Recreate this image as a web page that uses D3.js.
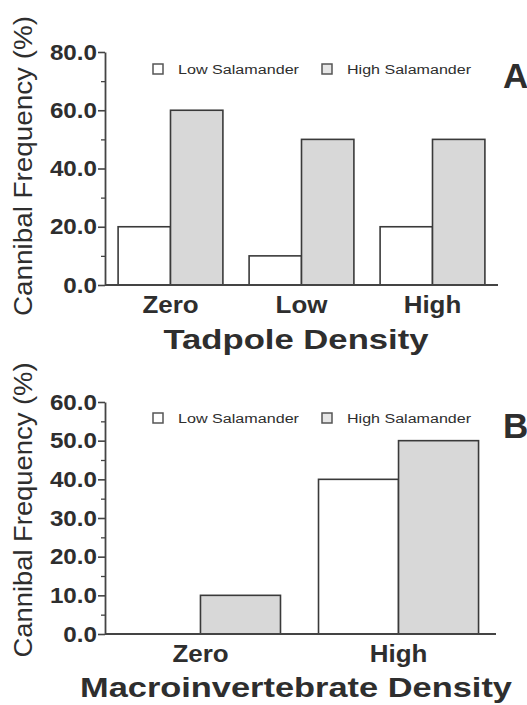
<!DOCTYPE html>
<html>
<head>
<meta charset="utf-8">
<script src="https://cdn.jsdelivr.net/npm/d3@7"></script>
<style>
  html, body { margin: 0; padding: 0; background: #fff; }
  svg { display: block; }
  text { font-family: "Liberation Sans", Arial, sans-serif; fill: #2e2e2e; }
</style>
</head>
<body>
<script>
// ---- data ----
const seriesNames = ["Low Salamander", "High Salamander"];
const tadpoleCategories = ["Zero", "Low", "High"];
const tadpoleLowSal = [20, 10, 20];
const tadpoleHighSal = [60, 50, 50];
const tadpoleMajorTicks = [0, 20, 40, 60, 80];
const tadpoleMinorTicks = [10, 30, 50, 70];

const macroCategories = ["Zero", "High"];
const macroLowSal = [0, 40];
const macroHighSal = [10, 50];
const macroMajorTicks = [0, 10, 20, 30, 40, 50, 60];
const macroMinorTicks = [5, 15, 25, 35, 45, 55];

const yLabel = "Cannibal Frequency (%)";

// ---- drawing ----
const W = 527, H = 705;
const svg = d3.select("body").append("svg").attr("width", W).attr("height", H);

const fillColors = ["#ffffff", "#d8d8d8"];
const strokeColor = "#3a3a3a";

function stretch(sel, factor) {
  sel.each(function () {
    const len = this.getComputedTextLength();
    d3.select(this).attr("textLength", len * factor).attr("lengthAdjust", "spacingAndGlyphs");
  });
}

function panel(cfg) {
  const g = svg.append("g");
  const y = d3.scaleLinear().domain([0, cfg.yMax]).range([cfg.y0, cfg.y1]);
  const x = d3.scaleBand().domain(cfg.categories).range([cfg.x0, cfg.x1])
    .paddingInner(cfg.padIn).paddingOuter(cfg.padOut);
  const xs = d3.scaleBand().domain(seriesNames).range([0, x.bandwidth()]).padding(0);

  const rows = cfg.categories.map((c, i) => ({ cat: c, vals: [cfg.low[i], cfg.high[i]] }));

  // bars
  const grp = g.selectAll("g.grp").data(rows).join("g")
    .attr("transform", d => `translate(${x(d.cat)},0)`);
  grp.selectAll("rect").data(d => d.vals.map((v, k) => ({ v, k })))
    .join("rect")
    .filter(d => d.v > 0)
    .attr("x", d => xs(seriesNames[d.k]))
    .attr("y", d => y(d.v))
    .attr("width", xs.bandwidth())
    .attr("height", d => y(0) - y(d.v))
    .attr("fill", d => fillColors[d.k])
    .attr("stroke", strokeColor)
    .attr("stroke-width", 1.6);

  // baseline
  g.append("line")
    .attr("x1", cfg.x0).attr("x2", cfg.baseEnd)
    .attr("y1", y(0)).attr("y2", y(0))
    .attr("stroke", "#444").attr("stroke-width", 1.8);

  // y axis minor
  const minor = g.append("g").attr("transform", `translate(${cfg.x0},0)`)
    .call(d3.axisLeft(y).tickValues(cfg.minor).tickSize(4).tickFormat(""));
  minor.select(".domain").remove();
  minor.selectAll("line").attr("stroke", "#444").attr("stroke-width", 1.3);

  // y axis major
  const ax = g.append("g").attr("transform", `translate(${cfg.x0},0)`)
    .call(d3.axisLeft(y).tickValues(cfg.major).tickSize(7).tickSizeOuter(0).tickPadding(1)
      .tickFormat(d3.format(".1f")));
  ax.select(".domain").attr("stroke", "#444").attr("stroke-width", 1.8);
  ax.selectAll(".tick line").attr("stroke", "#444").attr("stroke-width", 1.6);
  const tl = ax.selectAll(".tick text")
    .attr("font-size", 22).attr("font-weight", "bold").attr("fill", "#2e2e2e")
    .attr("font-family", "Liberation Sans, Arial, sans-serif");
  stretch(tl, 1.1);

  // x axis labels
  const xa = g.append("g").attr("transform", `translate(0,${y(0)})`)
    .call(d3.axisBottom(x).tickSize(0).tickPadding(0));
  xa.select(".domain").remove();
  const xt = xa.selectAll(".tick text")
    .attr("y", 28).attr("dy", 0)
    .attr("font-size", 24).attr("font-weight", "bold").attr("fill", "#2e2e2e")
    .attr("font-family", "Liberation Sans, Arial, sans-serif");
  stretch(xt, 1.08);

  // x title
  const t = g.append("text")
    .attr("x", cfg.titleX).attr("y", cfg.titleY)
    .attr("text-anchor", "middle")
    .attr("font-size", 28).attr("font-weight", "bold")
    .text(cfg.title);
  t.attr("textLength", cfg.titleLen).attr("lengthAdjust", "spacingAndGlyphs");

  // y label
  g.append("text")
    .attr("transform", `translate(32,${cfg.yLabelCy}) rotate(-90)`)
    .attr("text-anchor", "middle")
    .attr("font-size", 25)
    .attr("textLength", cfg.yLabelLen).attr("lengthAdjust", "spacingAndGlyphs")
    .text(yLabel);

  // legend
  const legX = [153, 322];
  const legTX = [178, 347];
  const legLen = [121, 124];
  seriesNames.forEach((s, k) => {
    g.append("rect")
      .attr("x", legX[k]).attr("y", cfg.legY)
      .attr("width", 10).attr("height", 10)
      .attr("fill", k === 0 ? "#ffffff" : "#e6e6e6")
      .attr("stroke", "#555").attr("stroke-width", 1.5);
    g.append("text")
      .attr("x", legTX[k]).attr("y", cfg.legY + 10)
      .attr("font-size", 12)
      .attr("fill", "#444")
      .attr("textLength", legLen[k]).attr("lengthAdjust", "spacingAndGlyphs")
      .text(s);
  });

  // panel letter
  g.append("text")
    .attr("x", 503).attr("y", cfg.letterY)
    .attr("font-size", 35).attr("font-weight", "bold")
    .text(cfg.letter);
}

panel({
  categories: tadpoleCategories, low: tadpoleLowSal, high: tadpoleHighSal,
  yMax: 80, major: tadpoleMajorTicks, minor: tadpoleMinorTicks,
  x0: 105, x1: 498, baseEnd: 498, padIn: 0.2, padOut: 0.1,
  y0: 285, y1: 52,
  title: "Tadpole Density", titleX: 296, titleY: 349, titleLen: 265,
  yLabelCy: 166, yLabelLen: 300,
  legY: 64, letter: "A", letterY: 88
});

panel({
  categories: macroCategories, low: macroLowSal, high: macroHighSal,
  yMax: 60, major: macroMajorTicks, minor: macroMinorTicks,
  x0: 105, x1: 494, baseEnd: 496, padIn: 0.192, padOut: 0.078,
  y0: 634, y1: 402,
  title: "Macroinvertebrate Density", titleX: 296, titleY: 697, titleLen: 432,
  yLabelCy: 510, yLabelLen: 295,
  legY: 413, letter: "B", letterY: 438
});
</script>
</body>
</html>
